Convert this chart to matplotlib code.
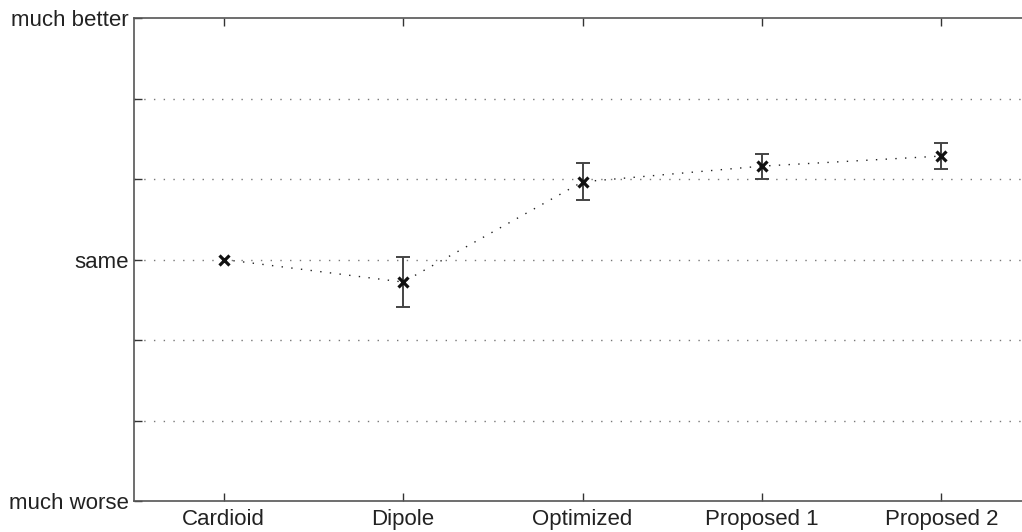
import matplotlib
matplotlib.use("Agg")
import matplotlib.pyplot as plt
import numpy as np

categories = ["Cardioid", "Dipole", "Optimized", "Proposed 1", "Proposed 2"]
means = [0.0, -0.28, 0.965, 1.16, 1.285]
errors = [0.0, 0.305, 0.23, 0.155, 0.16]
ytick_vals = [-3, -2, -1, 0, 1, 2, 3]
ytick_labels = ["much worse", "", "", "same", "", "", "much better"]
grid_vals = [-2, -1, 0, 1, 2]

plt.rcParams['font.family'] = ['Liberation Sans', 'DejaVu Sans']

fig = plt.figure(figsize=(10.22, 5.32), dpi=100)
W, H = 1022, 532
left, right, top, bottom = 134, 1031, 18, 501
ax = fig.add_axes([left / W, 1 - bottom / H, (right - left) / W, (bottom - top) / H])

x = np.arange(1, len(categories) + 1)

for g in grid_vals:
    ax.axhline(g, color='#777777', lw=1.0, linestyle=(0, (1, 6)), zorder=1)

ax.plot(x, means, color='#222222', lw=1.0, linestyle=(0, (1, 6)), zorder=2)
ax.errorbar(x[1:], means[1:], yerr=errors[1:], fmt='none', ecolor='#444444',
            elinewidth=1.4, capsize=5, capthick=1.4, zorder=3)
ax.plot(x, means, linestyle='none', marker='x', markersize=7.5, mew=2.3,
        color='#111111', zorder=4)

ax.set_xlim(0.5, 5.5)
ax.set_ylim(-3, 3)
ax.set_xticks(x)
ax.set_xticklabels(categories)
ax.set_yticks(ytick_vals)
ax.set_yticklabels(ytick_labels)

ax.tick_params(axis='both', direction='in', length=6, width=1, color='#333333',
               labelsize=16, labelcolor='#222222')
ax.tick_params(axis='x', top=True, pad=6)
ax.tick_params(axis='y', pad=4)

for s in ['left', 'bottom', 'top']:
    ax.spines[s].set_color('#555555')
    ax.spines[s].set_linewidth(1.2)
ax.spines['right'].set_visible(False)

fig.savefig("out.png", dpi=100)
